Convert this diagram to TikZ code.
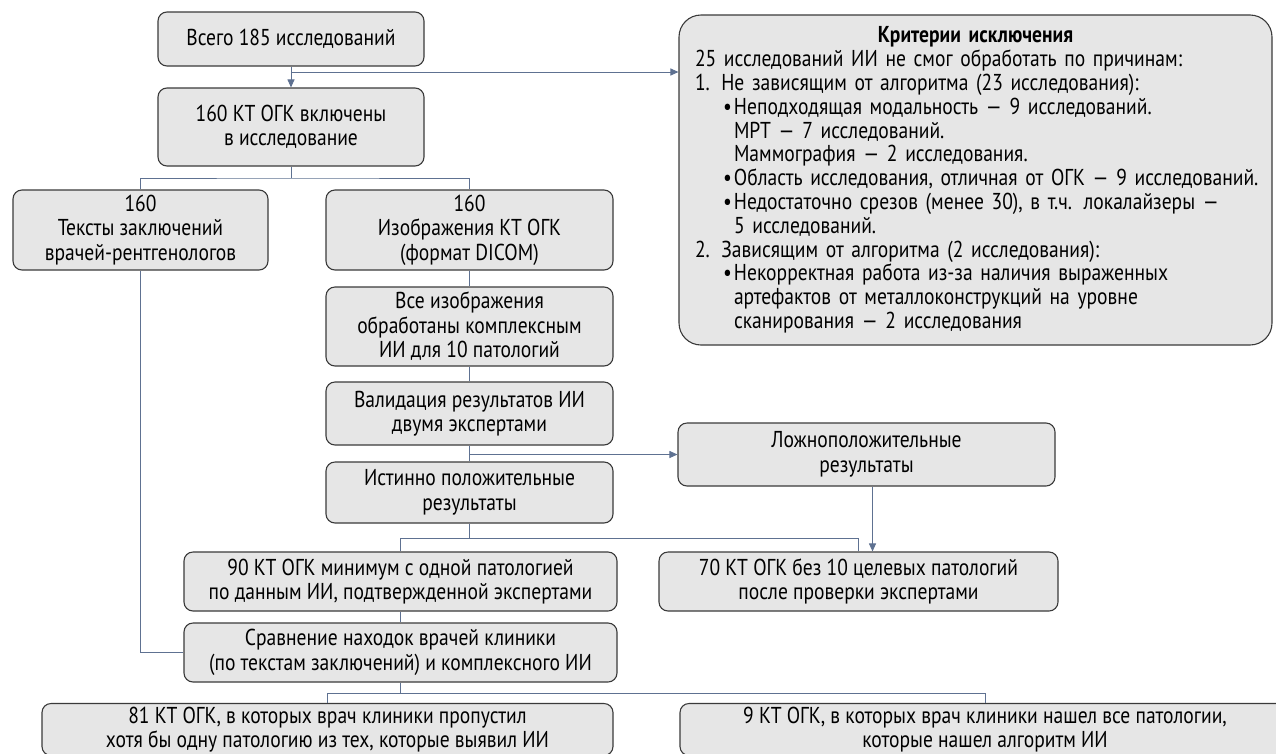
\documentclass[tikz,border=0pt]{standalone}
\usepackage{fontspec}
\setmainfont{PT Sans}[FakeStretch=0.85]
\usetikzlibrary{arrows.meta,calc}
\definecolor{boxfill}{HTML}{E6E6E6}
\definecolor{boxline}{HTML}{3A3A3A}
\definecolor{conncol}{HTML}{5E7191}
\tikzset{
 box/.style={draw=boxline, fill=boxfill, line width=1.1pt, rounded corners=9pt, align=center, inner sep=0pt, font=\fontsize{23}{24.5}\selectfont},
 conn/.style={draw=conncol, line width=1pt},
 arr/.style={conn, -{Triangle[length=8pt,width=7pt]}},
}
\begin{document}
\begin{tikzpicture}[x=1pt,y=-1pt]
\clip (0,0) rectangle (1276,753);
\node[box, minimum width=266pt, minimum height=54pt] (A) at (291,39) {Всего 185 исследований};
\node[box, minimum width=266pt, minimum height=78pt] (B) at (291,127) {160 КТ ОГК включены\\в исследование};
\node[box, minimum width=593pt, minimum height=330pt, rounded corners=22pt, text width=561pt, inner xsep=16pt, align=left, font=\fontsize{23}{23.8}\selectfont] (C) at (975.5,180) {%
\makebox[561pt][c]{\bfseries Критерии исключения}\\
25 исследований ИИ не смог обработать по причинам:\\
1. Не зависящим от алгоритма (23 исследования):\\
\hspace*{28pt}\makebox[11pt][l]{•}\mbox{Неподходящая модальность — 9 исследований.}\\
\hspace*{39pt}МРТ — 7 исследований.\\
\hspace*{39pt}Маммография — 2 исследования.\\
\hspace*{28pt}\makebox[11pt][l]{•}\mbox{Область исследования, отличная от ОГК — 9 исследований.}\\
\hspace*{28pt}\makebox[11pt][l]{•}\mbox{Недостаточно срезов (менее 30), в т.ч. локалайзеры —}\\
\hspace*{39pt}5 исследований.\\
2. Зависящим от алгоритма (2 исследования):\\
\hspace*{28pt}\makebox[11pt][l]{•}\mbox{Некорректная работа из-за наличия выраженных}\\
\hspace*{39pt}\mbox{артефактов от металлоконструкций на уровне}\\
\hspace*{39pt}сканирования — 2 исследования};
\node[box, minimum width=255pt, minimum height=80pt] (D) at (140.5,230) {160\\Тексты заключений\\врачей-рентгенологов};
\node[box, minimum width=287pt, minimum height=80pt] (E) at (469.5,230) {160\\Изображения КТ ОГК\\(формат DICOM)};
\node[box, minimum width=287pt, minimum height=79pt] (F) at (469.5,326.5) {Все изображения\\обработаны комплексным\\ИИ для 10 патологий};
\node[box, minimum width=287pt, minimum height=63pt] (G) at (469.5,413.5) {Валидация результатов ИИ\\двумя экспертами};
\node[box, minimum width=287pt, minimum height=61pt] (H) at (469.5,492.5) {Истинно положительные\\результаты};
\node[box, minimum width=377pt, minimum height=63pt] (I) at (866.5,454.5) {Ложноположительные\\результаты};
\node[box, minimum width=399pt, minimum height=59pt] (J) at (858.5,581.5) {70 КТ ОГК без 10 целевых патологий\\после проверки экспертами};
\node[box, minimum width=433pt, minimum height=59pt] (K) at (400.5,581.5) {90 КТ ОГК минимум с одной патологией\\по данным ИИ, подтвержденной экспертами};
\node[box, minimum width=433pt, minimum height=59pt] (L) at (400.5,652.5) {Сравнение находок врачей клиники\\(по текстам заключений) и комплексного ИИ};
\node[box, minimum width=571pt, minimum height=52pt] (M) at (327.5,729.5) {81 КТ ОГК, в которых врач клиники пропустил\\хотя бы одну патологию из тех, которые выявил ИИ};
\node[box, minimum width=610pt, minimum height=52pt] (N) at (985,729.5) {9 КТ ОГК, в которых врач клиники нашел все патологии,\\которые нашел алгоритм ИИ};
% connectors
\coordinate (a1) at (291,72);
\draw[arr] (A.south) -- (B.north);
\draw[arr] (a1) -- (a1 -| C.west);
\coordinate (b1) at (291,178);
\draw[conn] (B.south) -- (b1);
\draw[conn] (D.north) |- (b1) -| (E.north);
\draw[conn] (E.south) -- (F.north);
\draw[conn] (F.south) -- (G.north);
\draw[conn] (G.south) -- (H.north);
\draw[arr] (G.south |- I.west) -- (I.west);
\coordinate (h1) at (469.5,538);
\draw[conn] (H.south) -- (h1);
\draw[conn] (K.north) |- (h1) -| (J.north);
\draw[arr] ([xshift=6pt]I.south) -- ([xshift=6pt]I.south |- J.north);
\draw[conn] (K.south) -- (L.north);
\draw[conn] (D.south) |- (L.west);
\coordinate (l1) at (400.5,693);
\draw[conn] (L.south) -- (l1);
\draw[conn] (M.north) |- (l1) -| (N.north);
\end{tikzpicture}
\end{document}
